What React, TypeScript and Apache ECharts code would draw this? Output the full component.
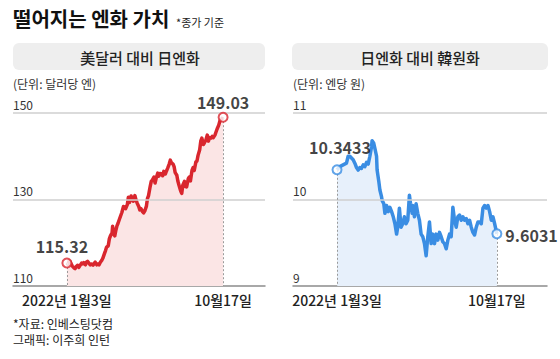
import React, { useEffect, useRef } from "react";
import * as echarts from "echarts";

const titleText = "떨어지는 엔화 가치";
const titleNote = "*종가 기준";
const leftHeader = "美달러 대비 日엔화";
const rightHeader = "日엔화 대비 韓원화";
const leftUnit = "(단위: 달러당 엔)";
const rightUnit = "(단위: 엔당 원)";
const xLabels = ["2022년 1월3일", "10월17일"];
const xLabelDays = [0, 287];
const leftTicks = [110, 130, 150];
const rightTicks = [9, 10, 11];
const sourceNote = "*자료: 인베스팅닷컴";
const creditNote = "그래픽: 이주희 인턴";

// days since 2022-01-03
const usdDays = [
  0, 2, 4, 6, 8, 10, 13, 15, 17, 20,
  22, 24, 27, 29, 31, 34, 36, 38, 41, 43,
  45, 48, 50, 52, 55, 57, 59, 62, 64, 66,
  69, 71, 73, 76, 78, 80, 83, 84, 86, 88,
  90, 92, 94, 97, 99, 101, 104, 106, 108, 111,
  113, 115, 118, 120, 122, 125, 127, 129, 132, 134,
  136, 139, 141, 143, 146, 148, 150, 153, 155, 157,
  160, 162, 164, 167, 169, 171, 174, 176, 178, 181,
  183, 185, 188, 190, 192, 195, 197, 199, 202, 204,
  206, 209, 211, 213, 216, 218, 220, 223, 225, 227,
  230, 232, 234, 237, 239, 241, 244, 246, 248, 251,
  253, 255, 258, 260, 262, 265, 267, 269, 272, 274,
  276, 279, 281, 283, 285, 287,
];
const usdJpy = [
  115.32, 115.0, 115.8, 115.6, 115.1, 114.6, 114.2, 114.0, 114.5, 114.8,
  114.3, 114.7, 115.3, 115.1, 115.4, 114.9, 115.5, 115.7, 115.2, 114.9,
  115.1, 114.8, 115.2, 115.5, 114.9, 115.1, 114.9, 115.6, 115.9, 116.4,
  117.5, 118.2, 119.0, 119.3, 120.9, 121.6, 122.3, 123.8, 122.0, 121.6,
  122.9, 123.9, 124.5, 125.6, 126.3, 127.0, 128.4, 128.2, 127.9, 128.8,
  130.5, 129.3, 130.8, 130.2, 129.6, 130.9, 129.9, 129.2, 128.4, 127.6,
  127.9, 127.2, 126.9, 127.3, 128.4, 130.2, 130.9, 133.0, 134.2, 134.5,
  135.2, 133.8, 134.9, 136.1, 135.4, 136.0, 135.9, 135.5, 136.5, 135.9,
  136.6, 137.2, 138.2, 139.1, 138.5, 138.2, 137.6, 136.2, 135.6, 134.2,
  133.3, 132.0, 131.4, 133.3, 134.2, 133.0, 132.9, 134.8, 135.2, 134.3,
  136.8, 137.4, 136.7, 138.7, 138.9, 140.2, 141.5, 143.5, 144.2, 142.7,
  143.2, 143.6, 144.9, 143.5, 144.3, 144.2, 144.6, 144.3, 144.9, 145.6,
  146.3, 147.2, 148.1, 148.5, 148.7, 149.03,
];

const krwDays = [
  0, 5, 11, 17, 20, 23, 26, 29, 32, 35,
  38, 41, 44, 47, 50, 53, 56, 59, 62, 63,
  66, 68, 71, 72, 75, 77, 80, 81, 84, 86,
  89, 92, 95, 98, 101, 104, 107, 109, 112, 115,
  118, 121, 124, 127, 130, 132, 135, 136, 139, 142,
  145, 148, 151, 154, 157, 160, 163, 166, 169, 172,
  175, 178, 181, 184, 187, 190, 193, 196, 199, 202,
  205, 208, 211, 214, 217, 220, 223, 226, 229, 232,
  235, 238, 241, 244, 247, 250, 253, 256, 259, 262,
  265, 268, 271, 274, 277, 280, 283, 287,
];
const jpyKrw = [
  10.3433, 10.38, 10.4, 10.42, 10.5, 10.5, 10.48, 10.46, 10.42, 10.37,
  10.34, 10.37, 10.36, 10.4, 10.38, 10.43, 10.41, 10.5, 10.61, 10.68,
  10.65, 10.59, 10.5, 10.34, 10.21, 10.11, 10.03, 9.99, 9.95, 9.84,
  9.93, 9.86, 9.91, 9.86, 9.8, 9.72, 9.6, 9.68, 9.9, 9.68,
  9.72, 9.8, 9.72, 9.76, 10.05, 9.95, 9.84, 9.93, 9.8, 9.95,
  9.84, 9.76, 9.6, 9.57, 9.49, 9.35, 9.57, 9.74, 9.49, 9.6,
  9.49, 9.6, 9.53, 9.62, 9.57, 9.51, 9.49, 9.43, 9.53, 9.6,
  9.57, 9.91, 9.76, 9.68, 9.8, 9.82, 9.76, 9.8, 9.76, 9.78,
  9.72, 9.76, 9.68, 9.62, 9.59, 9.68, 9.74, 9.74, 9.72, 9.9,
  9.93, 9.9, 9.93, 9.86, 9.76, 9.8, 9.72, 9.6031,
];

const FONT = "'Noto Sans CJK KR', 'Noto Sans', sans-serif";
const RED = "#d9262e";
const BLUE = "#3a8de3";

function buildPanel(
  idx: number,
  days: number[],
  vals: number[],
  color: string,
  area: string,
  ticks: number[],
  firstLabel: any,
  lastLabel: any
) {
  const data = days.map((d, i) => [d, vals[i]]);
  const first = data[0];
  const last = data[data.length - 1];
  const base = ticks[0];
  const grid = "#cfcfcf";
  const dotted = { color: "#9a9a9a", width: 1, type: [2, 2] as any };
  const series = [
    {
      type: "line",
      xAxisIndex: idx,
      yAxisIndex: idx,
      data: [],
      z: 1,
      silent: true,
      markLine: {
        silent: true,
        symbol: ["none", "none"],
        label: { show: false },
        animation: false,
        data: [
          { yAxis: ticks[1], lineStyle: { color: grid, width: 1.5, type: "solid" } },
          { yAxis: ticks[2], lineStyle: { color: grid, width: 1.5, type: "solid" } },
          [
            { coord: [first[0], first[1]], lineStyle: dotted },
            { coord: [first[0], base] },
          ],
          [
            { coord: [last[0], last[1]], lineStyle: dotted },
            { coord: [last[0], base] },
          ],
        ],
      },
    },
    {
      type: "line",
      xAxisIndex: idx,
      yAxisIndex: idx,
      data,
      z: 3,
      showSymbol: false,
      symbol: "none",
      lineStyle: { color, width: 3.5, join: "round" },
      areaStyle: { color: area, origin: "start", opacity: 1 },
    },
    {
      type: "scatter",
      xAxisIndex: idx,
      yAxisIndex: idx,
      z: 5,
      symbol: "circle",
      symbolSize: 9,
      itemStyle: { color: "#ffffff", borderColor: color, borderWidth: 2 },
      label: {
        show: true,
        fontFamily: FONT,
        fontWeight: "bold",
        fontSize: 16,
        color: "#111",
        formatter: (p: any) => String(p.value[1]),
      },
      data: [
        { value: first, label: firstLabel },
        { value: last, label: lastLabel },
      ],
    },
  ];
  return series;
}

export default function App() {
  const ref = useRef<HTMLDivElement>(null);
  useEffect(() => {
    document.body.style.margin = "0";
    if (!ref.current) return;
    const chart = echarts.init(ref.current, undefined, { renderer: "svg" });

    const xAxisCommon = (min: number, max: number, gridIndex: number) => ({
      type: "value",
      gridIndex,
      min,
      max,
      axisLine: { show: true, onZero: false, lineStyle: { color: "#8c8c8c", width: 1.5 } },
      axisTick: { show: false },
      splitLine: { show: false },
      axisLabel: {
        customValues: xLabelDays,
        formatter: (v: number) => {
          const i = xLabelDays.indexOf(v);
          return i >= 0 ? xLabels[i] : "";
        },
        fontFamily: FONT,
        fontSize: 14,
        fontWeight: 500,
        color: "#222",
        margin: 7,
      },
    });
    const yAxisCommon = (ticks: number[], gridIndex: number) => ({
      type: "value",
      gridIndex,
      min: ticks[0],
      max: ticks[2],
      axisLine: { show: false },
      axisTick: { show: false },
      splitLine: { show: false },
      axisLabel: {
        customValues: ticks,
        inside: true,
        margin: 0,
        verticalAlign: "bottom",
        padding: [0, 0, 3, 0],
        fontFamily: FONT,
        fontSize: 12,
        color: "#333",
      },
    });

    const option: any = {
      animation: false,
      backgroundColor: "#ffffff",
      grid: [
        { left: 13, right: 295, top: 113, height: 173 },
        { left: 293, right: 13, top: 113, height: 173 },
      ],
      xAxis: [xAxisCommon(-99, 364, 0), xAxisCommon(-79, 377, 1)],
      yAxis: [yAxisCommon(leftTicks, 0), yAxisCommon(rightTicks, 1)],
      series: [
        ...buildPanel(
          0,
          usdDays,
          usdJpy,
          RED,
          "#fbe5e5",
          leftTicks,
          { position: "top", distance: 3, offset: [-5, 0] },
          { position: "top", distance: 2, offset: [0, 0] }
        ),
        ...buildPanel(
          1,
          krwDays,
          jpyKrw,
          BLUE,
          "#e7f0fb",
          rightTicks,
          { position: "top", distance: 9, offset: [3, 0] },
          { position: "right", distance: 3, offset: [0, 1] }
        ),
      ],
      graphic: [
        {
          type: "text",
          left: 13,
          top: 8,
          style: { text: titleText, fontFamily: FONT, fontWeight: "bold", fontSize: 20, fill: "#111" },
        },
        {
          type: "text",
          left: 176,
          top: 16,
          style: { text: titleNote, fontFamily: FONT, fontSize: 11, fill: "#222" },
        },
        {
          type: "rect",
          shape: { x: 13, y: 43, width: 252, height: 27, r: 6 },
          style: { fill: "#eeeeee" },
        },
        {
          type: "rect",
          shape: { x: 292, y: 43, width: 256, height: 27, r: 6 },
          style: { fill: "#eeeeee" },
        },
        {
          type: "text",
          x: 140,
          y: 57,
          style: {
            text: leftHeader,
            fontFamily: FONT,
            fontSize: 15,
            fontWeight: 500,
            fill: "#222",
            align: "center",
            verticalAlign: "middle",
          },
        },
        {
          type: "text",
          x: 420,
          y: 57,
          style: {
            text: rightHeader,
            fontFamily: FONT,
            fontSize: 15,
            fontWeight: 500,
            fill: "#222",
            align: "center",
            verticalAlign: "middle",
          },
        },
        {
          type: "text",
          x: 13,
          y: 83,
          style: { text: leftUnit, fontFamily: FONT, fontSize: 12, fill: "#333", verticalAlign: "middle" },
        },
        {
          type: "text",
          x: 293,
          y: 83,
          style: { text: rightUnit, fontFamily: FONT, fontSize: 12, fill: "#333", verticalAlign: "middle" },
        },
        {
          type: "text",
          x: 13,
          y: 323,
          style: { text: sourceNote, fontFamily: FONT, fontSize: 12, fill: "#222", verticalAlign: "middle" },
        },
        {
          type: "text",
          x: 13,
          y: 339,
          style: { text: creditNote, fontFamily: FONT, fontSize: 12, fill: "#222", verticalAlign: "middle" },
        },
      ],
    };
    chart.setOption(option);
    return () => chart.dispose();
  }, []);
  return <div ref={ref} style={{ width: 560, height: 359 }} />;
}
